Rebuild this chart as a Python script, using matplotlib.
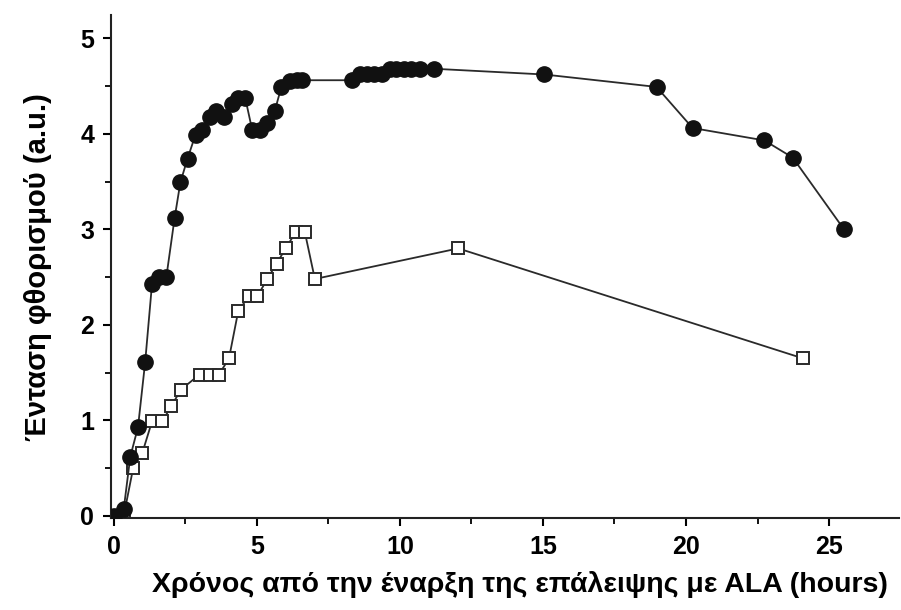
import matplotlib
matplotlib.use('Agg')
import matplotlib.pyplot as plt
from matplotlib.ticker import MultipleLocator

plt.rcParams['font.family'] = ['Liberation Sans', 'DejaVu Sans']

# Filled circles
t_filled = [0.0, 0.35, 0.58, 0.85, 1.1, 1.34, 1.6, 1.84, 2.13, 2.33, 2.58, 2.86, 3.1,
            3.36, 3.59, 3.86, 4.12, 4.35, 4.6, 4.84, 5.13, 5.37, 5.63, 5.86, 6.15,
            6.39, 6.58, 8.34, 8.6, 8.86, 9.1, 9.36, 9.65, 9.88, 10.14, 10.4, 10.7,
            11.2, 15.05, 18.97, 20.23, 22.74, 23.73, 25.52]
f_filled = [0.0, 0.07, 0.62, 0.93, 1.61, 2.43, 2.5, 2.5, 3.12, 3.49, 3.74, 3.99, 4.04,
            4.18, 4.24, 4.17, 4.31, 4.37, 4.37, 4.04, 4.04, 4.11, 4.24, 4.49, 4.55,
            4.56, 4.56, 4.56, 4.62, 4.62, 4.62, 4.62, 4.68, 4.68, 4.68, 4.68, 4.68,
            4.68, 4.62, 4.49, 4.06, 3.93, 3.75, 3.0]

# Open squares
t_open = [0.0, 0.35, 0.68, 1.0, 1.34, 1.69, 2.02, 2.34, 3.0, 3.36, 3.68, 4.03, 4.35,
          4.72, 5.02, 5.37, 5.69, 6.01, 6.36, 6.68, 7.03, 12.04, 24.08]
f_open = [0.0, 0.0, 0.5, 0.66, 0.99, 0.99, 1.15, 1.32, 1.48, 1.48, 1.48, 1.65, 2.14,
          2.3, 2.3, 2.48, 2.64, 2.8, 2.97, 2.97, 2.48, 2.8, 1.65]

fig = plt.figure(figsize=(9.01, 6.10), dpi=100)
ax = fig.add_axes([0.123, 0.151, 0.875, 0.824])

ax.plot(t_open, f_open, '-', color='#2a2a2a', lw=1.3, marker='s', ms=8,
        mfc='white', mec='#2a2a2a', mew=1.4, zorder=2)
ax.plot(t_filled, f_filled, '-', color='#2a2a2a', lw=1.3, marker='o', ms=11,
        mfc='#111111', mec='#111111', zorder=3)

ax.set_xlim(-0.1, 27.45)
ax.set_ylim(-0.02, 5.24)
ax.xaxis.set_major_locator(MultipleLocator(5))
ax.xaxis.set_minor_locator(MultipleLocator(2.5))
ax.yaxis.set_major_locator(MultipleLocator(1))
ax.yaxis.set_minor_locator(MultipleLocator(0.5))

for s in ['top', 'right']:
    ax.spines[s].set_visible(False)
for s in ['left', 'bottom']:
    ax.spines[s].set_linewidth(1.5)
    ax.spines[s].set_color('#222222')

ax.tick_params(which='major', direction='out', length=6, width=1.5, labelsize=18, pad=6)
ax.tick_params(which='minor', direction='out', length=4, width=1.3)
for lab in ax.get_xticklabels() + ax.get_yticklabels():
    lab.set_fontweight('bold')

ax.set_xlabel('Χρόνος από την έναρξη της επάλειψης με ALA (hours)',
              fontsize=20.5, fontweight='bold')
ax.xaxis.set_label_coords(0.519, -0.105)
ax.set_ylabel('Ένταση φθορισμού (a.u.)', fontsize=21, fontweight='bold', labelpad=20)

fig.savefig('out.png', dpi=100)
